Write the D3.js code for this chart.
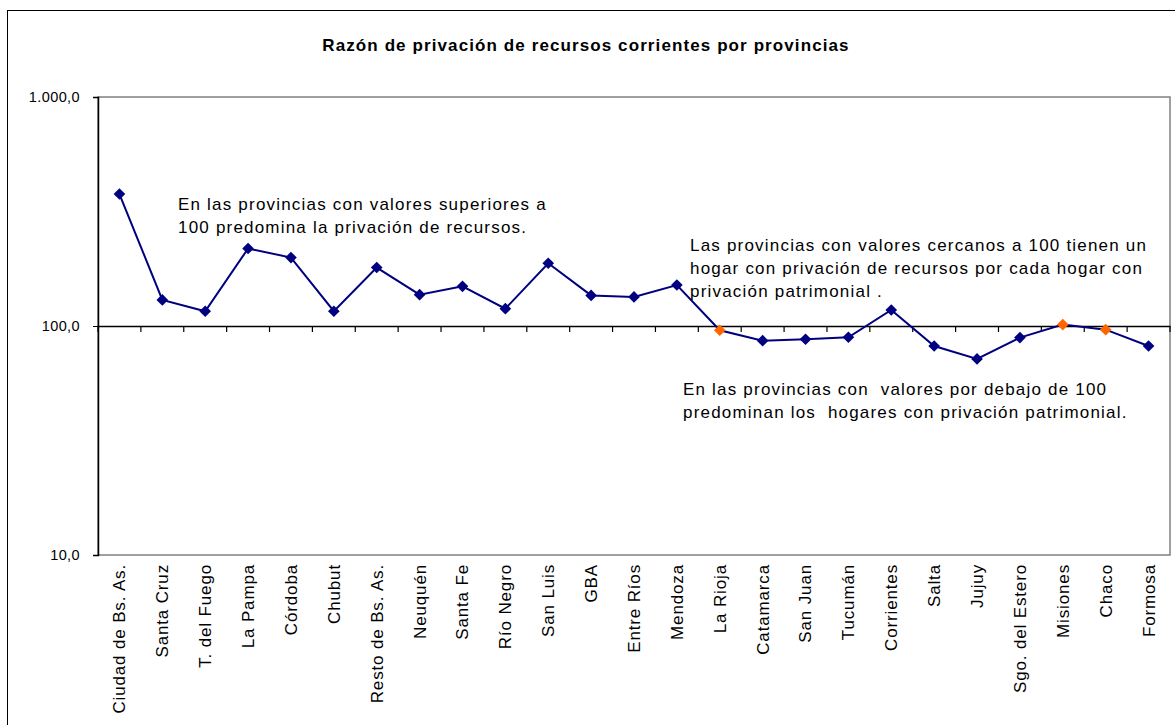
<!DOCTYPE html>
<html lang="es">
<head>
<meta charset="utf-8">
<script src="https://cdn.jsdelivr.net/npm/d3@7"></script>
<style>
  body { margin: 0; background: #fff; }
  svg { display: block; font-family: Arial, "Liberation Sans", sans-serif; }
</style>
</head>
<body>
<svg id="chart" width="1175" height="725"></svg>
<script>
// Datos del gráfico
const provincias = [
  "Ciudad de Bs. As.", "Santa Cruz", "T. del Fuego", "La Pampa", "Córdoba",
  "Chubut", "Resto de Bs. As.", "Neuquén", "Santa Fe", "Río Negro",
  "San Luis", "GBA", "Entre Ríos", "Mendoza", "La Rioja", "Catamarca",
  "San Juan", "Tucumán", "Corrientes", "Salta", "Jujuy", "Sgo. del Estero",
  "Misiones", "Chaco", "Formosa"
];
const razon = [
  377, 130, 116, 218, 199, 116, 180, 137, 149, 119, 188, 136, 134, 151,
  95.8, 86.3, 87.5, 89.3, 117.5, 81.8, 71.8, 89, 101.4, 96.4, 81.8
];
const destacadas = ["La Rioja", "Misiones", "Chaco"]; // marcadores naranjas
const yTicks = [10, 100, 1000];
const notas = [
  { x: 178, y: 210, lineas: ["En las provincias con valores superiores a", "100 predomina la privación de recursos."] },
  { x: 690, y: 251, lineas: ["Las provincias con valores cercanos a 100 tienen un", "hogar con privación de recursos por cada hogar con", "privación patrimonial ."] },
  { x: 683, y: 395, lineas: ["En las provincias con  valores por debajo de 100", "predominan los  hogares con privación patrimonial."] }
];

const svg = d3.select("#chart");
const plot = { left: 98, right: 1170, top: 97, bottom: 555 };

// Marco exterior (derecha y abajo quedan fuera de la imagen)
svg.append("rect")
  .attr("x", 7.5).attr("y", 10.5)
  .attr("width", 1180).attr("height", 740)
  .attr("fill", "#fff").attr("stroke", "#000").attr("stroke-width", 1);

// Título
svg.append("text")
  .attr("x", 586).attr("y", 51)
  .attr("text-anchor", "middle")
  .style("font-size", "17px").style("font-weight", "bold")
  .style("letter-spacing", "1.1px")
  .text("Razón de privación de recursos corrientes por provincias");

const x = d3.scaleBand().domain(provincias).range([plot.left, plot.right]);
const y = d3.scaleLog().domain([10, 1000]).range([plot.bottom, plot.top]);

// Área del gráfico: borde gris
svg.append("rect")
  .attr("x", plot.left).attr("y", plot.top)
  .attr("width", plot.right - plot.left).attr("height", plot.bottom - plot.top)
  .attr("fill", "none").attr("stroke", "#808080").attr("stroke-width", 1.5);

// Eje Y (logarítmico)
const fmt = d3.format(",.1f");
const yAxis = svg.append("g")
  .attr("transform", `translate(${plot.left},0)`)
  .call(d3.axisLeft(y).tickValues(yTicks).tickSize(5).tickPadding(13)
    .tickFormat(d => fmt(d).replace(/,/g, "#").replace(".", ",").replace(/#/g, ".")));
yAxis.select(".domain").attr("stroke", "#000").attr("stroke-width", 1.5);
yAxis.selectAll("text").style("font-size", "14.5px").style("letter-spacing", "0.4px").attr("fill", "#000");

// Eje X cruzando en 100, con marcas hacia abajo
const xAxis = svg.append("g")
  .attr("transform", `translate(0,${y(100)})`)
  .call(d3.axisBottom(x).tickSize(0).tickFormat(""));
xAxis.select(".domain").attr("stroke", "#000").attr("stroke-width", 1.5);
xAxis.selectAll(".borde")
  .data(d3.range(provincias.length + 1))
  .enter().append("line")
  .attr("class", "borde")
  .attr("x1", i => plot.left + i * x.step())
  .attr("x2", i => plot.left + i * x.step())
  .attr("y1", 0).attr("y2", 6)
  .attr("stroke", "#000").attr("stroke-width", 1.2);

// Etiquetas de provincias debajo del área
svg.append("g").selectAll("text")
  .data(provincias)
  .enter().append("text")
  .attr("transform", d => `translate(${x(d) + x.bandwidth() / 2},${plot.bottom + 9}) rotate(-90)`)
  .attr("text-anchor", "end")
  .attr("dy", "0.35em")
  .style("font-size", "17px").style("letter-spacing", "0.85px")
  .text(d => d);

// Línea y marcadores
const datos = provincias.map((p, i) => ({ p, v: razon[i] }));
const cx = d => x(d.p) + x.bandwidth() / 2;

svg.append("path")
  .datum(datos)
  .attr("fill", "none")
  .attr("stroke", "#000080")
  .attr("stroke-width", 2)
  .attr("d", d3.line().x(cx).y(d => y(d.v)));

const diamante = d3.symbol().type(d3.symbolSquare).size(68);
svg.append("g").selectAll("path")
  .data(datos)
  .enter().append("path")
  .attr("d", diamante)
  .attr("transform", d => `translate(${cx(d)},${y(d.v)}) rotate(45)`)
  .attr("fill", d => destacadas.includes(d.p) ? "#FF6600" : "#000080");

// Notas de texto
notas.forEach(n => {
  const t = svg.append("text")
    .attr("x", n.x).attr("y", n.y)
    .style("font-size", "17px").style("letter-spacing", "1.2px")
    .attr("fill", "#000");
  n.lineas.forEach((l, i) => {
    t.append("tspan").attr("x", n.x).attr("dy", i === 0 ? 0 : 23).style("white-space", "pre").text(l);
  });
});
</script>
</body>
</html>
